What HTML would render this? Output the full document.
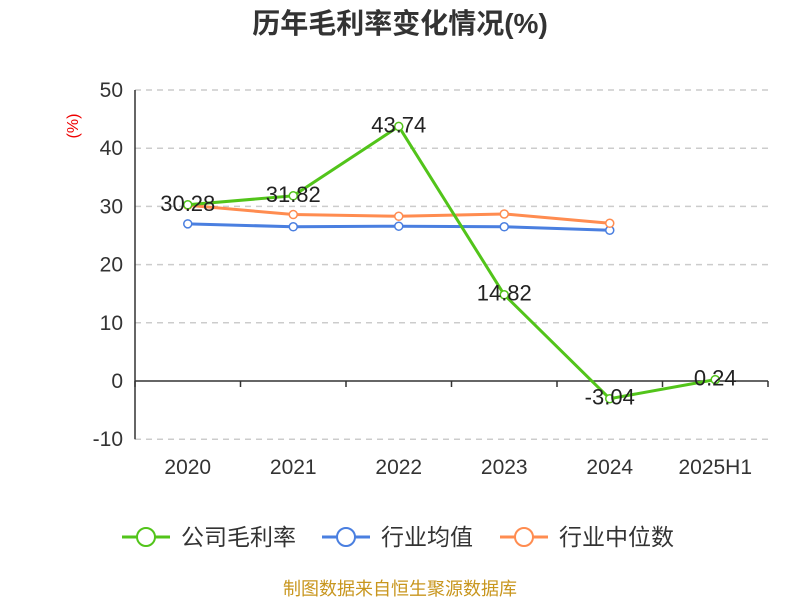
<!DOCTYPE html>
<html><head><meta charset="utf-8"><style>
body{margin:0;background:#fff;font-family:"Liberation Sans","Noto Sans CJK SC",sans-serif}
</style></head><body>
<svg width="800" height="600" xmlns="http://www.w3.org/2000/svg" font-family="Liberation Sans, Noto Sans CJK SC, sans-serif">
<text x="400" y="33" text-anchor="middle" font-size="28" font-weight="bold" fill="#333">历年毛利率变化情况(%)</text>
<text x="78" y="126" font-size="16" fill="#e00" text-anchor="middle" transform="rotate(-90 78 126)">(%)</text>
<g id="grid"></g><g id="axes"></g><g id="series"></g>
<g font-size="23" fill="#333">
<g><line x1="122" y1="537" x2="170" y2="537" stroke="#52c41a" stroke-width="3"/><circle cx="146" cy="537" r="9" fill="#fff" stroke="#52c41a" stroke-width="2"/><text x="181" y="545">公司毛利率</text></g>
<g><line x1="322" y1="537" x2="370" y2="537" stroke="#4a7fe0" stroke-width="3"/><circle cx="346" cy="537" r="9" fill="#fff" stroke="#4a7fe0" stroke-width="2"/><text x="381" y="545">行业均值</text></g>
<g><line x1="500" y1="537" x2="548" y2="537" stroke="#ff8c50" stroke-width="3"/><circle cx="524" cy="537" r="9" fill="#fff" stroke="#ff8c50" stroke-width="2"/><text x="559" y="545">行业中位数</text></g>
</g>
<text x="400" y="595" text-anchor="middle" font-size="18" fill="#c8961e">制图数据来自恒生聚源数据库</text>
</svg>
<script>
const categories=["2020","2021","2022","2023","2024","2025H1"];
const companyMargin=[30.28,31.82,43.74,14.82,-3.04,0.24];
const industryMean=[27.0,26.5,26.6,26.5,25.9];
const industryMedian=[30.2,28.6,28.3,28.7,27.1];
const yTicks=[-10,0,10,20,30,40,50];
const NS="http://www.w3.org/2000/svg";
const x0=135,x1=768,y50=90,y0=381;
const bw=(x1-x0)/categories.length;
function xS(i){return x0+bw*(i+0.5);}
function yS(v){return y0-(y0-y50)*v/50;}
function mk(t,a,p){const e=document.createElementNS(NS,t);for(const k in a)e.setAttribute(k,a[k]);p.appendChild(e);return e;}
const grid=document.getElementById('grid'),axes=document.getElementById('axes'),ser=document.getElementById('series');
yTicks.forEach(v=>{
 if(v!==0){const l=mk('line',{x1:x0,x2:x1,y1:yS(v),y2:yS(v),stroke:'#ccc','stroke-dasharray':'6,5','stroke-width':1.5},grid);
 
 }
 const t=mk('text',{x:x0-12,y:yS(v)+7,'text-anchor':'end','font-size':21,fill:'#333'},axes);t.textContent=v;
 
 
});
const ax=mk('line',{x1:x0,x2:x1,y1:yS(0),y2:yS(0),stroke:'#333','stroke-width':1.5},axes);


const ay=mk('line',{x1:x0,x2:x0,y1:yS(50),y2:yS(-10),stroke:'#333','stroke-width':1.5},axes);


for(let i=0;i<=categories.length;i++){const tk=mk('line',{x1:x0+bw*i,x2:x0+bw*i,y1:y0,y2:y0+6,stroke:'#333','stroke-width':1.5},axes);
 
 }
categories.forEach((c,i)=>{const t=mk('text',{x:xS(i),y:474,'text-anchor':'middle','font-size':21,fill:'#333'},axes);t.textContent=c;
 
 });
function line(data,color,name,labels){
 const g=mk('g',{},ser);
 
 
 const pl=mk('polyline',{points:data.map((v,i)=>xS(i)+','+yS(v)).join(' '),fill:'none',stroke:color,'stroke-width':3},g);
 
 
 data.forEach((v,i)=>{const c=mk('circle',{cx:xS(i),cy:yS(v),r:4,fill:'#fff',stroke:color,'stroke-width':1.5},g);
  
  
  if(labels){const t=mk('text',{x:xS(i),y:yS(v)+6,'text-anchor':'middle','font-size':22,fill:'#222'},g);
   t.textContent=v.toFixed(2);
   
   }
 });
}
line(industryMean,'#4a7fe0','industry-mean-series',false);
line(industryMedian,'#ff8c50','industry-median-series',false);
line(companyMargin,'#52c41a','gross-margin-series',true);
</script>
</body></html>
